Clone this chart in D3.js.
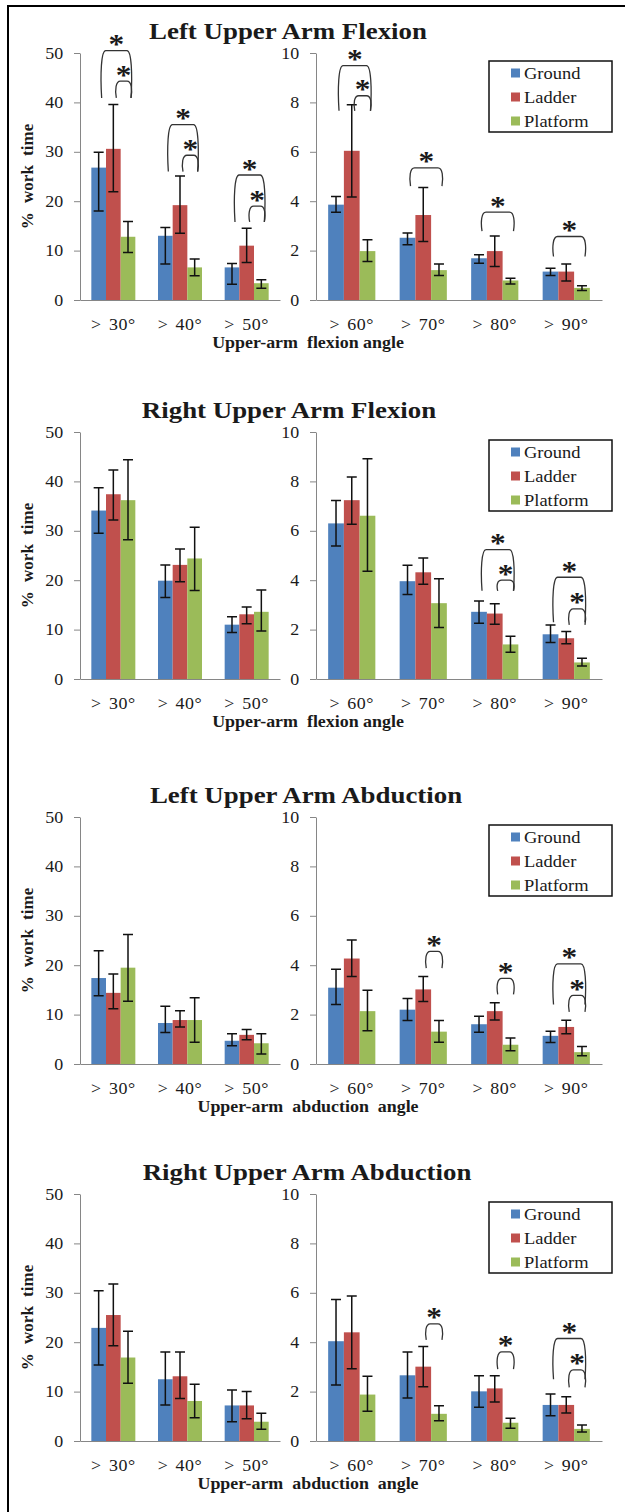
<!DOCTYPE html>
<html>
<head>
<meta charset="utf-8">
<script src="https://cdn.jsdelivr.net/npm/d3@7"></script>
<style>
    body { margin: 0; background: #ffffff; }
    svg text { font-family: "Liberation Serif", "Times New Roman", serif; }
</style>
</head>
<body>
<div class="armChartDiv"></div>
<script>
"use strict"

//
/* Data */
//
var seriesNames = ["Ground", "Ladder", "Platform"];
var seriesColors = ["#4F81BD", "#C0504D", "#9BBB59"];

var lowAngles = ["> 30°", "> 40°", "> 50°"];
var highAngles = ["> 60°", "> 70°", "> 80°", "> 90°"];
var lowTicks = [0, 10, 20, 30, 40, 50];
var highTicks = [0, 2, 4, 6, 8, 10];

var panelTitles = ["Left Upper Arm Flexion", "Right Upper Arm Flexion", "Left Upper Arm Abduction", "Right Upper Arm Abduction"];
var angleTitles = ["Upper-arm  flexion angle", "Upper-arm  flexion angle", "Upper-arm  abduction  angle", "Upper-arm  abduction  angle"];
var yTitle = "% work time";

// rows = angle categories, columns = Ground, Ladder, Platform
// Left Upper Arm Flexion
var lufLowMean = [[26.8, 30.6, 12.8], [13.0, 19.2, 6.6], [6.6, 11.0, 3.4]];
var lufLowHi   = [[29.9, 39.6, 15.9], [14.7, 25.1, 8.3], [7.4, 14.5, 4.1]];
var lufLowLo   = [[18.0, 21.9, 9.6],  [7.3, 13.5, 4.9],  [3.2, 7.6, 2.4]];
var lufHighMean = [[3.86, 6.04, 1.98], [2.52, 3.44, 1.21], [1.69, 1.98, 0.79], [1.15, 1.15, 0.49]];
var lufHighHi   = [[4.19, 7.90, 2.44], [2.71, 4.55, 1.46], [1.83, 2.59, 0.88], [1.29, 1.46, 0.58]];
var lufHighLo   = [[3.55, 4.17, 1.56], [2.24, 2.37, 0.99], [1.49, 1.36, 0.65], [0.99, 0.77, 0.38]];

// Right Upper Arm Flexion
var rufLowMean = [[34.1, 37.4, 36.2], [19.9, 23.1, 24.4], [11.0, 13.1, 13.6]];
var rufLowHi   = [[38.7, 42.3, 44.4], [23.1, 26.3, 30.7], [12.6, 14.6, 18.0]];
var rufLowLo   = [[29.5, 32.2, 28.2], [16.5, 19.7, 17.9], [9.4, 11.2, 9.7]];
var rufHighMean = [[6.30, 7.24, 6.61], [3.96, 4.32, 3.07], [2.72, 2.65, 1.40], [1.81, 1.65, 0.67]];
var rufHighHi   = [[7.23, 8.18, 8.92], [4.61, 4.90, 4.06], [3.16, 3.05, 1.73], [2.19, 1.92, 0.84]];
var rufHighLo   = [[5.38, 6.27, 4.36], [3.42, 3.84, 2.09], [2.26, 2.22, 1.08], [1.48, 1.43, 0.53]];

// Left Upper Arm Abduction
var luaLowMean = [[17.4, 14.4, 19.5], [8.3, 8.9, 8.9], [4.7, 5.9, 4.2]];
var luaLowHi   = [[22.9, 18.2, 26.2], [11.7, 10.8, 13.4], [6.1, 7.0, 6.1]];
var luaLowLo   = [[13.8, 11.2, 12.7], [6.4, 7.5, 4.4], [3.7, 4.9, 2.0]];
var luaHighMean = [[3.09, 4.27, 2.14], [2.20, 3.02, 1.31], [1.61, 2.14, 0.78], [1.14, 1.50, 0.48]];
var luaHighHi   = [[3.84, 5.02, 2.99], [2.65, 3.54, 1.76], [1.93, 2.48, 1.05], [1.33, 1.77, 0.71]];
var luaHighLo   = [[2.41, 3.54, 1.35], [1.76, 2.53, 0.88], [1.29, 1.78, 0.54], [0.87, 1.22, 0.33]];

// Right Upper Arm Abduction
var ruaLowMean = [[22.9, 25.5, 16.9], [12.5, 13.1, 8.1], [7.2, 7.2, 3.9]];
var ruaLowHi   = [[30.4, 31.8, 22.2], [18.0, 18.0, 11.5], [10.3, 10.0, 5.6]];
var ruaLowLo   = [[15.4, 19.3, 11.7], [7.3, 8.6, 4.7], [3.9, 4.5, 2.4]];
var ruaHighMean = [[4.04, 4.40, 1.88], [2.66, 3.01, 1.10], [2.01, 2.13, 0.74], [1.46, 1.46, 0.49]];
var ruaHighHi   = [[5.73, 5.87, 2.62], [3.60, 3.83, 1.43], [2.64, 2.64, 0.92], [1.90, 1.79, 0.65]];
var ruaHighLo   = [[2.27, 2.93, 1.20], [1.74, 2.20, 0.82], [1.37, 1.58, 0.52], [1.02, 1.13, 0.36]];

// significance brackets: [category, fromSeries, toSeries, topValue, footValue]
var lufLowSig  = [[0, 0, 2, 50.5, 40.9], [0, 1, 2, 44.3, 40.9], [1, 0, 2, 35.5, 26.0], [1, 1, 2, 29.3, 26.0], [2, 0, 2, 25.3, 15.8], [2, 1, 2, 19.0, 15.8]];
var lufHighSig = [[0, 0, 2, 9.49, 7.66], [0, 1, 2, 8.27, 7.66], [1, 0, 2, 5.35, 4.61], [2, 0, 2, 3.56, 2.79], [3, 0, 2, 2.57, 1.76]];
var rufLowSig  = [];
var rufHighSig = [[2, 0, 2, 5.24, 3.57], [2, 1, 2, 4.00, 3.57], [3, 0, 2, 4.12, 2.30], [3, 1, 2, 2.84, 2.19]];
var luaLowSig  = [];
var luaHighSig = [[1, 1, 2, 4.56, 3.88], [2, 1, 2, 3.47, 2.82], [3, 0, 2, 4.05, 2.41], [3, 1, 2, 2.78, 2.11]];
var ruaLowSig  = [];
var ruaHighSig = [[1, 1, 2, 4.74, 4.09], [2, 1, 2, 3.61, 2.91], [3, 0, 2, 4.15, 2.50], [3, 1, 2, 2.88, 2.17]];

var lowSets = [
    {mean: lufLowMean, hi: lufLowHi, lo: lufLowLo, sig: lufLowSig},
    {mean: rufLowMean, hi: rufLowHi, lo: rufLowLo, sig: rufLowSig},
    {mean: luaLowMean, hi: luaLowHi, lo: luaLowLo, sig: luaLowSig},
    {mean: ruaLowMean, hi: ruaLowHi, lo: ruaLowLo, sig: ruaLowSig}
];
var highSets = [
    {mean: lufHighMean, hi: lufHighHi, lo: lufHighLo, sig: lufHighSig},
    {mean: rufHighMean, hi: rufHighHi, lo: rufHighLo, sig: rufHighSig},
    {mean: luaHighMean, hi: luaHighHi, lo: luaHighLo, sig: luaHighSig},
    {mean: ruaHighMean, hi: ruaHighHi, lo: ruaHighLo, sig: ruaHighSig}
];

//
/* Layout */
//
var width = 625;
var height = 1512;
var panelTops = [53, 432, 817, 1194];
var titleCenters = [288, 289, 306, 307];
var plotHeight = 247;
var lowRange = [80, 280];
var highRange = [316, 602];
var stretch = 1.12;     // the figure's text is a little wider than the font
var axisGrey = "#868686";
var inkColor = "#1a1a1a";

var svgContainer = d3.select(".armChartDiv").append("svg")
                        .attr("width", width)
                        .attr("height", height);

// frame on the left and top edges
svgContainer.append("path")
    .attr("d", "M8," + height + "V6H" + width)
    .attr("fill", "none")
    .attr("stroke", "#000")
    .attr("stroke-width", 2);

function addText(parent, x, y, str)
{
    return parent.append("text")
                .attr("transform", "translate(" + x + "," + y + ") scale(" + stretch + ",1)")
                .style("white-space", "pre")
                .attr("fill", inkColor)
                .text(str);
}

function bracketPath(x1, x2, yTop, yFoot)
{
    var h = yFoot - yTop;
    var r = 4;
    return "M" + x1 + "," + yFoot +
           "C" + (x1 - 1.5) + "," + (yFoot - h * 0.5) + " " + (x1 - 0.5) + "," + yTop + " " + (x1 + r) + "," + yTop +
           "L" + (x2 - r) + "," + yTop +
           "C" + (x2 + 0.5) + "," + yTop + " " + (x2 + 1.5) + "," + (yFoot - h * 0.5) + " " + x2 + "," + yFoot;
}

function drawSubplot(g, set, categories, ticks, maxValue, xRange, plotTop)
{
    var y = d3.scaleLinear().domain([0, maxValue]).range([plotTop + plotHeight, plotTop]);
    var x = d3.scaleBand().domain(d3.range(categories.length)).range(xRange)
                .paddingInner(0.34).paddingOuter(0.17);
    var xs = d3.scaleBand().domain(d3.range(seriesNames.length)).range([0, x.bandwidth()]);

    // y axis
    var yAxis = g.append("g")
                    .attr("transform", "translate(" + xRange[0] + ",0)")
                    .call(d3.axisLeft(y).tickValues(ticks).tickSizeInner(6).tickSizeOuter(0).tickPadding(9));
    yAxis.select(".domain").attr("stroke", axisGrey);
    yAxis.selectAll(".tick line").attr("stroke", axisGrey);
    yAxis.selectAll(".tick text")
            .attr("font-size", 16)
            .attr("fill", inkColor)
            .attr("font-family", "Liberation Serif")
            .attr("transform", "scale(" + stretch + ",1)");

    // x axis
    var xAxis = g.append("g")
                    .attr("transform", "translate(0," + (plotTop + plotHeight) + ")")
                    .call(d3.axisBottom(x).tickFormat(function(i) { return categories[i] }).tickSize(0).tickPadding(19));
    xAxis.select(".domain").attr("stroke", axisGrey);
    xAxis.selectAll(".tick text")
            .attr("font-size", 16)
            .attr("fill", inkColor)
            .attr("font-family", "Liberation Serif")
            .attr("word-spacing", 2)
            .attr("letter-spacing", 0.5)
            .attr("transform", "scale(" + stretch + ",1)");

    // bars and error bars
    var groups = g.selectAll("angleGroup")
                    .data(set.mean)
                    .enter()
                    .append("g")
                    .attr("transform", function(d, i) { return "translate(" + x(i) + ",0)" });

    groups.each(function(row, ci)
    {
        var grp = d3.select(this);
        grp.selectAll("rect")
            .data(row)
            .enter()
            .append("rect")
            .attr("x", function(d, si) { return xs(si) })
            .attr("y", function(d) { return y(d) })
            .attr("width", xs.bandwidth())
            .attr("height", function(d) { return y(0) - y(d) })
            .attr("fill", function(d, si) { return seriesColors[si] });

        var capHalf = 5;
        grp.selectAll("errBar")
            .data(row)
            .enter()
            .append("path")
            .attr("d", function(d, si)
            {
                var cx = xs(si) + xs.bandwidth() / 2;
                var yh = y(set.hi[ci][si]);
                var yl = y(set.lo[ci][si]);
                return "M" + cx + "," + yh + "V" + yl +
                       "M" + (cx - capHalf) + "," + yh + "H" + (cx + capHalf) +
                       "M" + (cx - capHalf) + "," + yl + "H" + (cx + capHalf);
            })
            .attr("fill", "none")
            .attr("stroke", "#111")
            .attr("stroke-width", 1.5);
    });

    // significance brackets with asterisks
    var sig = g.selectAll("sigBracket")
                .data(set.sig)
                .enter()
                .append("g");

    sig.each(function(s)
    {
        var x1 = x(s[0]) + xs(s[1]) + xs.bandwidth() / 2 + 3;
        var x2 = x(s[0]) + xs(s[2]) + xs.bandwidth() / 2 + 3;
        var one = d3.select(this);

        one.append("path")
            .attr("d", bracketPath(x1, x2, y(s[3]), y(s[4])))
            .attr("fill", "none")
            .attr("stroke", "#333")
            .attr("stroke-width", 1.3);

        addText(one, (x1 + x2) / 2, y(s[3]) + 2.5, "*")
            .attr("text-anchor", "middle")
            .attr("font-size", 28)
            .attr("font-weight", "bold");
    });
}

function drawLegend(g, plotTop)
{
    var box = {x: 489, y: plotTop + 8, w: 123, h: 71};
    g.append("rect")
        .attr("x", box.x)
        .attr("y", box.y)
        .attr("width", box.w)
        .attr("height", box.h)
        .attr("fill", "#fff")
        .attr("stroke", "#111")
        .attr("stroke-width", 1.5);

    var items = g.selectAll("legendItem")
                    .data(seriesNames)
                    .enter()
                    .append("g")
                    .attr("transform", function(d, i) { return "translate(" + (box.x + 22) + "," + (box.y + 12 + i * 24) + ")" });

    items.append("rect")
        .attr("x", 0)
        .attr("y", -4.5)
        .attr("width", 9)
        .attr("height", 9)
        .attr("fill", function(d, i) { return seriesColors[i] });

    items.each(function(d)
    {
        addText(d3.select(this), 13, 6, d)
            .attr("font-size", 16.5);
    });
}

for (var p = 0; p < panelTitles.length; p++)
{
    var panelTop = panelTops[p];
    var panel = svgContainer.append("g").attr("class", "armPanel" + p);

    addText(panel, titleCenters[p], panelTop - 14, panelTitles[p])
        .attr("text-anchor", "middle")
        .attr("font-size", 24)
        .attr("font-weight", "bold");

    drawSubplot(panel, lowSets[p], lowAngles, lowTicks, 50, lowRange, panelTop);
    drawSubplot(panel, highSets[p], highAngles, highTicks, 10, highRange, panelTop);
    drawLegend(panel, panelTop);

    panel.append("text")
        .attr("transform", "translate(33," + (panelTop + plotHeight / 2) + ") rotate(-90)")
        .attr("text-anchor", "middle")
        .attr("font-size", 17)
        .attr("font-weight", "bold")
        .attr("word-spacing", 5)
        .attr("fill", inkColor)
        .text(yTitle);

    addText(panel, 308, panelTop + plotHeight + 48, angleTitles[p])
        .attr("text-anchor", "middle")
        .attr("font-size", 16)
        .attr("font-weight", "bold");
}
</script>
</body>
</html>
